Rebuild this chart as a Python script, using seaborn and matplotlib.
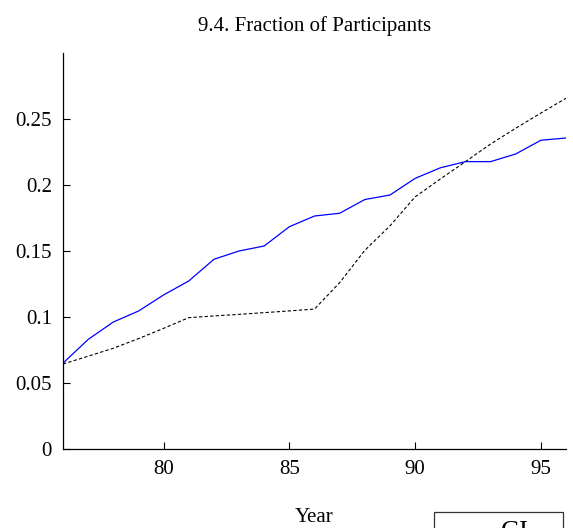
import matplotlib
matplotlib.use("Agg")
import matplotlib.pyplot as plt
import seaborn as sns
import pandas as pd

# Fraction of participants by year, two series
years = list(range(76, 97))
gi_share = [0.0650, 0.0830, 0.0962, 0.1045, 0.1167, 0.1273, 0.1437, 0.1500,
            0.1538, 0.1684, 0.1765, 0.1786, 0.1890, 0.1924, 0.2050, 0.2130,
            0.2177, 0.2177, 0.2235, 0.2339, 0.2356]
other_share = [0.0644, 0.0703, 0.0763, 0.0836, 0.0914, 0.0995, 0.1008, 0.1020,
               0.1033, 0.1046, 0.1060, 0.1260, 0.1505, 0.1690, 0.1910, 0.2045,
               0.2177, 0.2310, 0.2430, 0.2545, 0.2657]
x_ticks = [80, 85, 90, 95]
y_ticks = [0, 0.05, 0.1, 0.15, 0.2, 0.25]
y_tick_labels = ["0", "0.05", "0.1", "0.15", "0.2", "0.25"]

sns.set_style("ticks")
plt.rcParams["font.family"] = ["Liberation Serif", "DejaVu Serif"]
plt.rcParams["font.size"] = 15
plt.rcParams["text.color"] = "black"
plt.rcParams["axes.labelcolor"] = "black"

df = pd.DataFrame({"Year": years, "GI": gi_share, "Other": other_share})

fig = plt.figure(figsize=(5.73, 5.28), dpi=100)
ax = fig.add_axes([63 / 573, 1 - 449 / 528, (566 - 63) / 573, (449 - 53) / 528])

sns.lineplot(data=df, x="Year", y="GI", ax=ax, color="#0000ff",
             linewidth=0.9, label="GI")
sns.lineplot(data=df, x="Year", y="Other", ax=ax, color="black",
             linewidth=0.8, linestyle=(0, (3, 2)), label="_nolegend_")

ax.set_xlim(76, 96)
ax.set_ylim(0, 0.3)
ax.set_xticks(x_ticks)
ax.set_xticklabels([str(t) for t in x_ticks])
ax.set_yticks(y_ticks)
ax.set_yticklabels(y_tick_labels)
ax.tick_params(direction="in", length=5, width=0.8, labelsize=15,
               colors="black", pad=8)
for side in ("top", "right"):
    ax.spines[side].set_visible(False)
for side in ("left", "bottom"):
    ax.spines[side].set_linewidth(0.9)
    ax.spines[side].set_color("black")

ax.set_title("9.4. Fraction of Participants", fontsize=15, pad=16,
             color="black")
ax.set_xlabel("Year", fontsize=15, labelpad=21, color="black")
ax.set_ylabel("")

# Legend box stretched to a fixed width below the axes
leg = ax.legend(loc="upper left",
                bbox_to_anchor=(434 / 573, 1 - 512 / 528 - 0.2, 129 / 573, 0.2),
                bbox_transform=fig.transFigure, mode="expand", frameon=True,
                fancybox=False, shadow=False, fontsize=19, handlelength=1.65,
                handletextpad=0.6, borderpad=0.3, borderaxespad=0)
leg.get_frame().set_edgecolor("black")
leg.get_frame().set_linewidth(0.9)
leg.get_frame().set_facecolor("white")

fig.savefig("out.png", dpi=100)
